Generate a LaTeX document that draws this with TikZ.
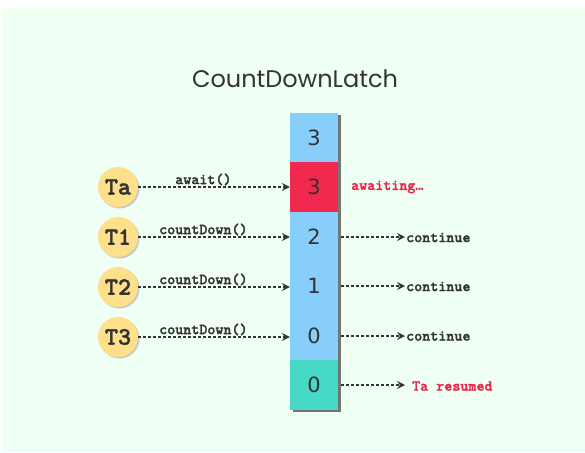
\documentclass[tikz,border=0pt]{standalone}
\usepackage{fontspec}
\setmainfont{DejaVu Sans}
\newfontfamily\titlef{Poppins}
\newfontfamily\monob[Extension=.otf, FakeBold=1.6]{lmmonolt10-bold}
\usetikzlibrary{arrows.meta,shadows}
\definecolor{bgc}{HTML}{F0FFF4}
\definecolor{bluec}{HTML}{87CEFA}
\definecolor{redc}{HTML}{F2294E}
\definecolor{tealc}{HTML}{48D8C6}
\definecolor{yelc}{HTML}{FFE08A}
\definecolor{redt}{HTML}{E8284A}
\definecolor{inkc}{HTML}{333333}
\tikzset{
  cell/.style={minimum width=48pt, minimum height=49.5pt, inner sep=0pt,
    font=\fontsize{21}{24}\selectfont, text=inkc,
    drop shadow={shadow xshift=2.5pt, shadow yshift=-2.5pt, fill=black!60, opacity=0.9}},
  thread/.style={circle, fill=yelc, minimum size=40pt, inner sep=0pt,
    font=\monob\fontsize{25}{27}\selectfont, text=inkc,
    drop shadow={shadow xshift=1.5pt, shadow yshift=-1.5pt, fill=black!40, opacity=0.5}},
  call/.style={draw=inkc, line width=1.25pt, dash pattern=on 3pt off 2pt,
    -{Stealth[length=8pt,width=8pt,inset=3pt]}},
  lbl/.style={font=\monob\fontsize{15.3}{17}\selectfont, text=inkc, inner sep=1pt},
  rlbl/.style={lbl, anchor=west}
}
\begin{document}
\begin{tikzpicture}[x=1pt,y=-1pt]
\useasboundingbox (0,0) rectangle (585,452);
\fill[white] (0,0) rectangle (585,452);
\fill[bgc] (2,8) rectangle (585,452);
\node[font=\titlef\fontsize{24}{28}\selectfont, text=inkc] (title) at (295,79) {CountDownLatch};
% column
\node[cell, fill=bluec] (b0) at (314,137.5) {3};
\node[cell, fill=redc] (b1) at (314,187) {3};
\node[cell, fill=bluec] (b2) at (314,236.5) {2};
\node[cell, fill=bluec] (b3) at (314,286) {1};
\node[cell, fill=bluec] (b4) at (314,335.5) {0};
\node[cell, fill=tealc] (b5) at (314,385) {0};
% threads
\node[thread] (ta) at (118,187) {Ta};
\node[thread] (t1) at (118,237) {T1};
\node[thread] (t2) at (118,287) {T2};
\node[thread] (t3) at (118,337) {T3};
\draw[call] (ta.east) -- (ta.east -| b1.west) node[lbl, above, pos=0.43] {await()};
\draw[call] (t1.east) -- (t1.east -| b2.west) node[lbl, above, pos=0.43] {countDown()};
\draw[call] (t2.east) -- (t2.east -| b3.west) node[lbl, above, pos=0.43] {countDown()};
\draw[call] (t3.east) -- (t3.east -| b4.west) node[lbl, above, pos=0.43] {countDown()};
% right side
\node[rlbl, text=redt] (aw) at (350,187) {awaiting\ldots};
\node[rlbl] (c2) at (405,237.5) {continue};
\node[rlbl] (c4) at (405,286.5) {continue};
\node[rlbl] (c5) at (405,336) {continue};
\node[rlbl, text=redt] (res) at (411,386) {Ta resumed};
\path (b2.east) ++(3,0.5) coordinate (s2);
\draw[call] (s2) -- (s2 -| c2.west);
\path (b3.east) ++(3,0) coordinate (s3);
\draw[call] (s3) -- (s3 -| c4.west);
\path (b4.east) ++(3,0.5) coordinate (s4);
\draw[call] (s4) -- (s4 -| c5.west);
\path (b5.east) ++(3,0) coordinate (s5);
\draw[call] (s5) -- (s5 -| c2.west);
\end{tikzpicture}
\end{document}
